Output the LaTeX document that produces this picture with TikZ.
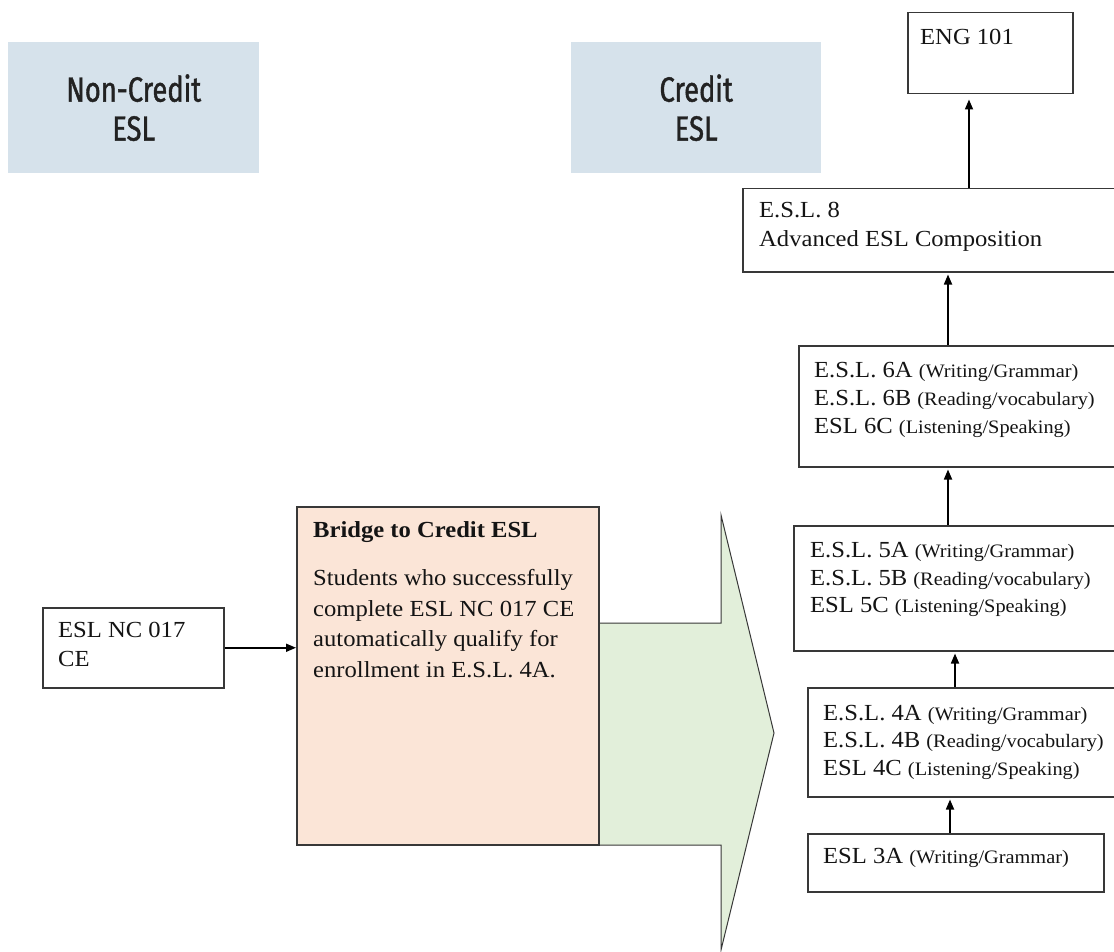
\documentclass[tikz,border=0pt]{standalone}
\usepackage{fontspec}
\setmainfont{Liberation Serif}[FakeStretch=1.07]
\newfontfamily\hdfont{Fira Sans}[FakeStretch=0.78,FakeBold=1.2]
\usetikzlibrary{arrows.meta}
\definecolor{boxline}{HTML}{383838}
\definecolor{txt}{HTML}{141414}
\definecolor{hdtxt}{HTML}{222222}
\definecolor{hdblue}{HTML}{D6E2EB}
\definecolor{peach}{HTML}{FBE5D7}
\definecolor{arrgreen}{HTML}{E2EFDA}
\newcommand\smp{\fontsize{19}{23}\selectfont}
\begin{document}
\begin{tikzpicture}[x=1pt,y=-1pt,
  box/.style={draw=boxline,line width=1.5pt,fill=white,anchor=north west,inner sep=0pt},
  hd/.style={fill=hdblue,inner sep=0pt,anchor=north west},
  hdtext/.style={font=\hdfont\fontsize{35}{39}\selectfont,align=center,text=hdtxt,inner sep=0pt},
  arr/.style={line width=1.7pt,draw=black,-{Triangle[length=10pt,width=8pt]},shorten >=2pt},
  tx/.style={anchor=base west,inner sep=0pt,font=\fontsize{23}{28}\selectfont,text=txt}
]
\useasboundingbox[fill=white] (0,0) rectangle (1114,952);

% heading boxes
\node[hd,minimum width=251pt,minimum height=131pt] (nc) at (8,42) {};
\node[hdtext] (nct) at (nc.center) {Non-Credit\\ESL};
\node[hd,minimum width=250pt,minimum height=131pt] (cr) at (571,42) {};
\node[hdtext] (crt) at (cr.center) {Credit\\ESL};

% big green arrow
\draw[fill=arrgreen,draw=boxline,line width=1pt]
  (598,623) -- (721,623) -- (721,515) -- (774,733) -- (721,950) -- (721,845) -- (598,845);

% boxes
\node[box,minimum width=165pt,minimum height=81pt] (eng) at (907,12) {};
\node[box,minimum width=400pt,minimum height=83pt] (esl8) at (742,188) {};
\node[box,minimum width=350pt,minimum height=121pt] (esl6) at (798,345) {};
\node[box,minimum width=350pt,minimum height=125pt] (esl5) at (793,525) {};
\node[box,minimum width=350pt,minimum height=109pt] (esl4) at (807,687) {};
\node[box,minimum width=296pt,minimum height=58pt] (esl3) at (807,833) {};
\node[box,minimum width=181pt,minimum height=80pt] (ncb) at (42,607) {};
\node[box,fill=peach,minimum width=302pt,minimum height=338pt] (bridge) at (296,506) {};

% texts
\node[tx] (tEng) at (920,45) {ENG 101};
\node[tx] (t8a) at (759,218) {E.S.L. 8};
\node[tx] (t8b) at (759,247) {Advanced ESL Composition};
\node[tx] (t6a) at (814,377) {E.S.L. 6A {\smp(Writing/Grammar)}};
\node[tx] (t6b) at (814,405) {E.S.L. 6B {\smp(Reading/vocabulary)}};
\node[tx] (t6c) at (814,433) {ESL 6C {\smp(Listening/Speaking)}};
\node[tx] (t5a) at (810,557) {E.S.L. 5A {\smp(Writing/Grammar)}};
\node[tx] (t5b) at (810,585) {E.S.L. 5B {\smp(Reading/vocabulary)}};
\node[tx] (t5c) at (810,612) {ESL 5C {\smp(Listening/Speaking)}};
\node[tx] (t4a) at (823,720) {E.S.L. 4A {\smp(Writing/Grammar)}};
\node[tx] (t4b) at (823,747) {E.S.L. 4B {\smp(Reading/vocabulary)}};
\node[tx] (t4c) at (823,775) {ESL 4C {\smp(Listening/Speaking)}};
\node[tx] (t3a) at (823,863) {ESL 3A {\smp(Writing/Grammar)}};
\node[tx] (tnca) at (58,637) {ESL NC 017};
\node[tx] (tncb) at (58,666) {CE};
\node[tx,font=\bfseries\fontsize{23}{28}\selectfont] (tbr) at (313,537) {Bridge to Credit ESL};
\node[tx] (tb1) at (313,585) {Students who successfully};
\node[tx] (tb2) at (313,616) {complete ESL NC 017 CE};
\node[tx] (tb3) at (313,646) {automatically qualify for};
\node[tx] (tb4) at (313,677) {enrollment in E.S.L. 4A.};

% connectors
\coordinate (c1) at (969,0);
\coordinate (c2) at (948,0);
\coordinate (c3) at (955,0);
\coordinate (c4) at (950,0);
\draw[arr,shorten >=5pt] (c1 |- esl8.north) -- (c1 |- eng.south);
\draw[arr] (c2 |- esl6.north) -- (c2 |- esl8.south);
\draw[arr] (c2 |- esl5.north) -- (c2 |- esl6.south);
\draw[arr] (c3 |- esl4.north) -- (c3 |- esl5.south);
\draw[arr] (c4 |- esl3.north) -- (c4 |- esl4.south);
\draw[arr,shorten >=0pt] (ncb.east) -- (ncb.east -| bridge.west);
\end{tikzpicture}
\end{document}
